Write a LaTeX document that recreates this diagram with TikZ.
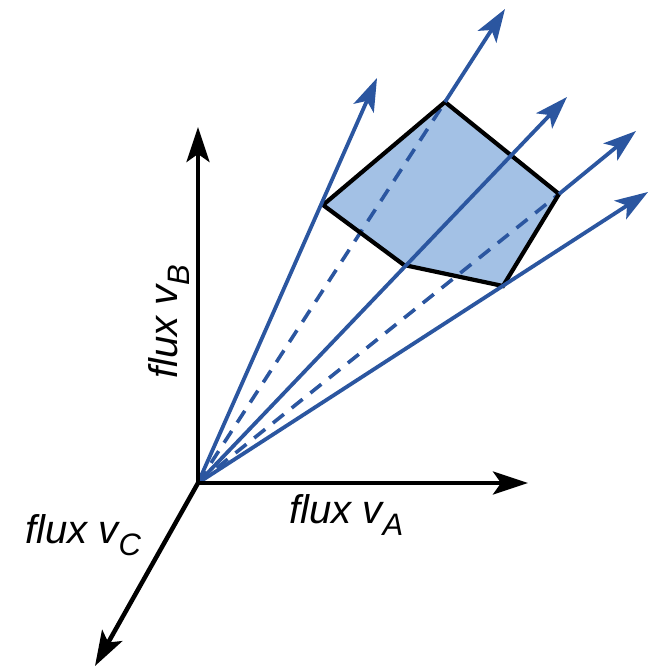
\documentclass[tikz,border=0pt]{standalone}
\usepackage{fontspec}
\setmainfont{Liberation Sans}
\usetikzlibrary{arrows.meta}
\definecolor{fluxblue}{HTML}{2B56A0}
\definecolor{conefill}{HTML}{A3C1E5}
\newcommand\fluxsub[1]{\raisebox{-12pt}{\fontsize{31}{31}\selectfont #1}}
\begin{document}
\begin{tikzpicture}[x=1pt,y=-1pt,
  axis/.style={line width=4.5pt, black, -{Stealth[length=35pt,width=23pt,inset=8pt]}},
  ray/.style={line width=3.8pt, fluxblue, -{Stealth[length=33pt,width=22pt,inset=8pt]}},
  hidden/.style={line width=3.6pt, fluxblue, dash pattern=on 14pt off 10pt},
  facet/.style={line width=4.2pt, black, line join=miter},
  lbl/.style={font=\fontsize{40}{40}\selectfont\itshape, inner sep=0pt}]
\useasboundingbox (0,0) rectangle (652,668);
% origin and axis ends
\coordinate (O) at (198,483);
\coordinate (A) at (528,483);
\coordinate (B) at (198,127);
\coordinate (C) at (95,666);
% polytope section vertices
\coordinate (P1) at (323,205);
\coordinate (P2) at (445,102);
\coordinate (P3) at (559,194);
\coordinate (P4) at (503,286);
\coordinate (P5) at (404,265);
% ray tips
\coordinate (T1) at (377,78);
\coordinate (T2) at (505,9);
\coordinate (T3) at (567,97);
\coordinate (T4) at (636,131);
\coordinate (T5) at (648,192);
% facet fill
\fill[conefill] (P1) -- (P2) -- (P3) -- (P4) -- (P5) -- cycle;
% hidden parts of rays
\draw[hidden] (O) -- (P2);
\draw[hidden] (O) -- (P3);
% facet outline
\draw[facet] (P1) -- (P2) -- (P3) -- (P4) -- (P5) -- cycle;
% rays
\draw[ray] (O) -- (T1);
\draw[ray] (P2) -- (T2);
\draw[ray] (O) -- (T3);
\draw[ray] (P3) -- (T4);
\draw[ray] (O) -- (T5);
% axes
\draw[axis] (O) -- (A);
\draw[axis] (O) -- (B);
\draw[axis] (O) -- (C);
% labels
\node[lbl, anchor=base west] (labA) at (289,523) {flux v\fluxsub{A}};
\node[lbl, anchor=base west, rotate=90] (labB) at (177,379) {flux v\fluxsub{B}};
\node[lbl, anchor=base west] (labC) at (25,543) {flux v\fluxsub{C}};
\end{tikzpicture}
\end{document}
